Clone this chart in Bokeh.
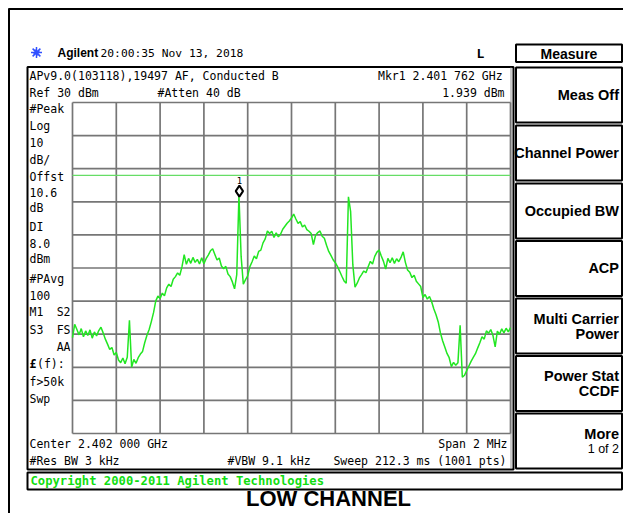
import numpy as np
from bokeh.plotting import figure
from bokeh.models import Range1d, Label
from bokeh.embed import file_html
from bokeh.resources import INLINE
from bokeh.core.properties import value

# ---------------- data ----------------
center_mhz = 2402.0
span_mhz = 2.0
ref_level_dbm = 30.0
db_per_div = 10.0
n_div = 10
display_line_dbm = 8.0
marker_freq_mhz = 2401.762
marker_level_dbm = 1.939

trace_level_dbm = [
    -41.0, -37.0, -38.6, -40.2, -38.3, -40.8, -39.0, -40.4, -38.7, -41.2,
    -39.3, -40.5, -38.9, -37.9, -39.6, -41.5, -43.0, -44.6, -44.0, -46.3,
    -45.5, -47.8, -48.6, -47.2, -48.9, -47.0, -35.8, -50.0, -47.6, -48.8,
    -47.1, -46.0, -45.2, -42.5, -40.3, -38.6, -36.2, -33.5, -30.0, -28.5,
    -29.2, -27.6, -28.4, -26.0, -24.9, -25.6, -23.4, -22.6, -21.5, -22.2,
    -19.6, -16.0, -18.9, -17.1, -18.6, -16.8, -18.3, -17.4, -18.8, -16.9,
    -18.7, -17.2, -16.1, -14.8, -14.2, -15.9, -17.6, -17.0, -19.4, -20.2,
    -19.5, -21.8, -22.6, -24.2, -26.3, -22.0, 1.9, -16.5, -24.9, -23.5,
    -22.4, -19.6, -18.1, -16.4, -17.2, -15.0, -14.6, -12.4, -11.2, -8.8,
    -9.6, -8.9, -10.8, -9.4, -10.6, -9.8, -8.3, -7.4, -6.5, -5.8,
    -4.9, -3.7, -5.2, -6.5, -6.0, -7.6, -7.0, -8.4, -8.9, -9.6,
    -12.9, -10.1, -9.3, -8.8, -10.4, -11.0, -13.1, -15.0, -16.2, -17.5,
    -18.4, -19.6, -21.0, -22.5, -23.9, -24.6, 1.5, -3.0, -19.0, -25.8,
    -24.6, -23.0, -22.0, -20.9, -21.4, -19.6, -18.0, -18.8, -16.5, -15.2,
    -14.6, -16.4, -18.0, -20.3, -17.1, -18.4, -16.9, -18.6, -17.2, -18.1,
    -16.8, -15.1, -18.3, -20.6, -21.3, -22.9, -22.2, -24.0, -24.8, -25.6,
    -28.9, -28.0, -29.4, -28.6, -30.2, -32.4, -34.1, -36.3, -39.6, -42.0,
    -43.9, -45.8, -47.1, -49.8, -48.5, -49.4, -48.6, -37.3, -53.0, -52.4,
    -51.0, -49.6, -48.2, -47.0, -45.9, -44.2, -42.6, -40.8, -41.5, -39.0,
    -39.7, -38.6, -40.4, -43.8, -39.1, -40.0, -38.4, -39.6, -38.2, -39.3,
    -38.0,
]

header_texts = ["Agilent", "20:00:35  Nov 13, 2018", "L", "Measure"]
info_top = ["APv9.0(103118),19497 AF, Conducted B", "Ref 30 dBm", "#Atten 40 dB",
            "Mkr1  2.401 762 GHz", "1.939 dBm"]
left_labels = ["#Peak", "Log", "10", "dB/", "Offst", "10.6", "dB", "DI", "8.0", "dBm",
               "#PAvg", "100", "M1  S2", "S3  FS", "AA", "£(f):", "f>50k", "Swp"]
info_bottom = ["Center 2.402 000 GHz", "Span 2 MHz", "#Res BW 3 kHz", "#VBW 9.1 kHz",
               "Sweep 212.3 ms (1001 pts)"]
softkeys = [["Meas Off"], ["Channel Power"], ["Occupied BW"], ["ACP"],
            ["Multi Carrier", "Power"], ["Power Stat", "CCDF"], ["More", "1 of 2"]]
copyright_text = "Copyright 2000-2011 Agilent Technologies"
caption = "LOW CHANNEL"

# ---------------- layout (pixels of the picture) ----------------
W, H = 623, 513
GRID_L, GRID_R, GRID_T, GRID_B = 72, 510, 102, 433
MONO = "DejaVu Sans Mono"
SANS = "Liberation Sans"
FS = "11.5px"
KEY_L, KEY_R = 515.5, 621.5

p = figure(width=W, height=H, x_range=Range1d(0, W), y_range=Range1d(H, 0),
           output_backend="svg", toolbar_location=None, min_border=0,
           x_axis_location=None, y_axis_location=None)
p.grid.visible = False
p.outline_line_color = None
p.background_fill_color = "white"
p.border_fill_color = "white"

f0 = center_mhz - span_mhz / 2
f1 = center_mhz + span_mhz / 2
bottom_db = ref_level_dbm - n_div * db_per_div
px_mhz = (GRID_R - GRID_L) / span_mhz
px_db = (GRID_B - GRID_T) / (n_div * db_per_div)
p.extra_x_ranges = {"freq": Range1d(f0 - GRID_L / px_mhz, f1 + (W - GRID_R) / px_mhz)}
p.extra_y_ranges = {"dbm": Range1d(bottom_db - (H - GRID_B) / px_db, ref_level_dbm + GRID_T / px_db)}


def lab(txt, x, y, size=FS, font=MONO, style="normal", align="left", color="black", base="middle"):
    p.add_layout(Label(x=x, y=y, text=txt, text_font=font, text_font_size=size,
                       text_font_style=style, text_align=align, text_baseline=base,
                       text_color=color))


def box(l, r, t, b, w=2, color="black"):
    p.quad(left=l, right=r, top=t, bottom=b, fill_color=None, line_color=color, line_width=w)


# outer frame (top and left edges)
p.segment(x0=[8, 8.5], y0=[8.5, 8], x1=[W, 8.5], y1=[8.5, H], line_color="black", line_width=2)

# header
p.scatter([36], [52], marker="asterisk", size=11, line_color="#3050ff", line_width=1.5)
p.scatter([36], [52], marker="cross", size=7, line_color="#3050ff", line_width=1, angle=0.4)
lab(header_texts[0], 57, 52.5, size="12px", font=SANS, style="bold")
lab(header_texts[1], 100, 52.5, size="11.3px")
lab(header_texts[2], 480, 52.5, size="13px", style="bold", align="center")
box(KEY_L, KEY_R, 44, 61.5)
lab(header_texts[3], (KEY_L + KEY_R) / 2, 53, size="14px", font=SANS, style="bold", align="center")

# screen box
box(27, 513, 66.5, 469)
p.segment(x0=[510.5], y0=[67], x1=[510.5], y1=[468], line_color="#999999", line_width=1)

lab(info_top[0], 29, 75)
lab(info_top[1], 29, 92.5)
lab(info_top[2], 157, 92.5)
lab(info_top[3], 509, 75, align="right")
lab(info_top[4], 504, 92.5, align="right")

left_y = [108, 125, 141.7, 159.5, 176.5, 191.7, 207, 226.5, 243, 258.5,
          278.5, 295, 311, 329, 346.5, 363, 381.5, 398]
for t, y in zip(left_labels, left_y):
    if t == "AA":
        lab(t, 70, y, align="right")
    elif "  " in t:
        a, b = t.split("  ")
        lab(a, 29, y)
        lab(b, 70, y, align="right")
    elif t.startswith("£"):
        lab("£", 29, y, style="bold")
        lab(t[1:], 36.5, y)
    else:
        lab(t, 29, y)

lab(info_bottom[0], 29, 443)
lab(info_bottom[1], 507, 443, align="right")
lab(info_bottom[2], 29, 460.5)
lab(info_bottom[3], 227, 460.5)
lab(info_bottom[4], 506, 460.5, align="right")

# graticule
gx = np.linspace(f0, f1, n_div + 1)
gy = np.linspace(bottom_db, ref_level_dbm, n_div + 1)
p.segment(x0=gx, y0=bottom_db, x1=gx, y1=ref_level_dbm, x_range_name="freq", y_range_name="dbm",
          line_color="#767676", line_width=1.7)
p.segment(x0=f0, y0=gy, x1=f1, y1=gy, x_range_name="freq", y_range_name="dbm",
          line_color="#767676", line_width=1.7)

# display line
p.segment(x0=[f0], y0=[display_line_dbm], x1=[f1], y1=[display_line_dbm],
          x_range_name="freq", y_range_name="dbm", line_color="#66dd66", line_width=1.2)

# trace
freq = np.linspace(f0, f1, len(trace_level_dbm))
p.line(freq, trace_level_dbm, x_range_name="freq", y_range_name="dbm",
       line_color="#22e622", line_width=1.5)

# marker
p.scatter([marker_freq_mhz], [marker_level_dbm + 4.3 / px_db], x_range_name="freq", y_range_name="dbm",
          marker="diamond", size=11, fill_color="white", line_color="black", line_width=2)
p.text(x=[marker_freq_mhz], y=[marker_level_dbm], text=["1"], x_range_name="freq", y_range_name="dbm",
       y_offset=-15, text_align="center", text_baseline="middle",
       text_font=value(MONO), text_font_size="9px", text_color="black")

# softkeys
tops = [67, 125, 183, 240.5, 298, 355.5, 413]
for keys, t in zip(softkeys, tops):
    box(KEY_L, KEY_R, t, t + 55)
    tx = KEY_R - 3
    if len(keys) == 1:
        lab(keys[0], tx, t + 27, size="14.5px", font=SANS, style="bold", align="right")
    else:
        second_bold = keys[1] != "1 of 2"
        lab(keys[0], tx, t + 20, size="14.5px", font=SANS, style="bold", align="right")
        lab(keys[1], tx, t + 35, size="14.5px" if second_bold else "12.5px",
            font=SANS, style="bold" if second_bold else "normal", align="right")

# copyright bar
box(27, KEY_R, 472, 489)
lab(copyright_text, 30, 480.5, size="12.2px", style="bold", color="#11dd11")

# caption
lab(caption, 328, 498, size="22px", font=SANS, style="bold", align="center")

open("out.html", "w").write(file_html(p, INLINE))
